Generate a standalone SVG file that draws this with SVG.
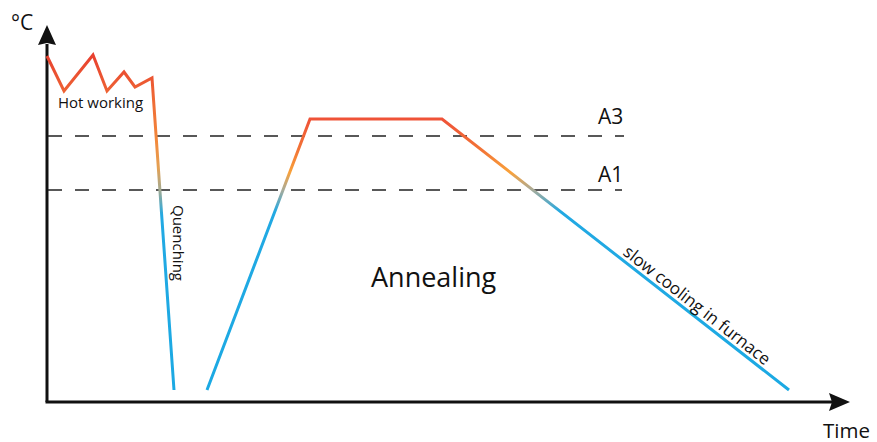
<svg xmlns="http://www.w3.org/2000/svg" width="877" height="442" viewBox="0 0 877 442">
<style>
.axis{stroke:#111;stroke-width:3;fill:none}
.head{fill:#111}
.dash{stroke:#222;stroke-width:1.5;stroke-dasharray:14 13;fill:none}
.curve{stroke-width:3;fill:none;stroke-linejoin:miter}
text{font-family:"Open Sans","Liberation Sans",sans-serif;fill:#111}
.lbl{font-size:21px}
.sm{font-size:15px}
</style>
<defs>
<linearGradient id="gHot" gradientUnits="userSpaceOnUse" x1="0" y1="55" x2="0" y2="390">
<stop offset="0" stop-color="#e8402f"/>
<stop offset="0.134" stop-color="#ef6a35"/>
<stop offset="0.254" stop-color="#f3883b"/>
<stop offset="0.337" stop-color="#e4a154"/>
<stop offset="0.403" stop-color="#a2aa92"/>
<stop offset="0.478" stop-color="#22a9e3"/>
<stop offset="1" stop-color="#1ba9e3"/>
</linearGradient>
<linearGradient id="gAnn" gradientUnits="userSpaceOnUse" x1="0" y1="119" x2="0" y2="390">
<stop offset="0" stop-color="#ef5237"/>
<stop offset="0.114" stop-color="#f27436"/>
<stop offset="0.196" stop-color="#f9a13a"/>
<stop offset="0.262" stop-color="#a8ab9a"/>
<stop offset="0.343" stop-color="#22a9e3"/>
<stop offset="1" stop-color="#1ba9e3"/>
</linearGradient>
</defs>
<g id="axes">
<line class="axis" x1="47" y1="44" x2="47" y2="402"/>
<line class="axis" x1="45.5" y1="402" x2="832" y2="402"/>
<polygon class="head" points="47,25 56,45 47,43 38,45"/>
<polygon class="head" points="850,402 829,393 832,402 829,411"/>
</g>
<g id="thresholds">
<line class="dash" x1="48" y1="136" x2="624" y2="136"/>
<line class="dash" x1="48" y1="190" x2="622" y2="190"/>
</g>
<g id="connectors">
<polyline id="hot-quench" class="curve" stroke="url(#gHot)" points="47,56 64,91 93,55 107,91 124,72 135,87 152,78 174,390"/>
<polyline id="annealing-path" class="curve" stroke="url(#gAnn)" points="207,390 310,119 442,119 789,390"/>
</g>
<g id="labels">
<text class="lbl" x="11" y="30">°C</text>
<text class="lbl" x="823" y="438" style="font-size:20.5px">Time</text>
<text class="lbl" x="598" y="124">A3</text>
<text class="lbl" x="598" y="182">A1</text>
<text class="sm" x="58" y="108">Hot working</text>
<text class="sm" transform="translate(173,205) rotate(90)">Quenching</text>
<text x="371" y="287" style="font-size:27px">Annealing</text>
<text style="font-size:17px" transform="translate(622,254) rotate(38.07)">slow cooling in furnace</text>
</g>
</svg>
